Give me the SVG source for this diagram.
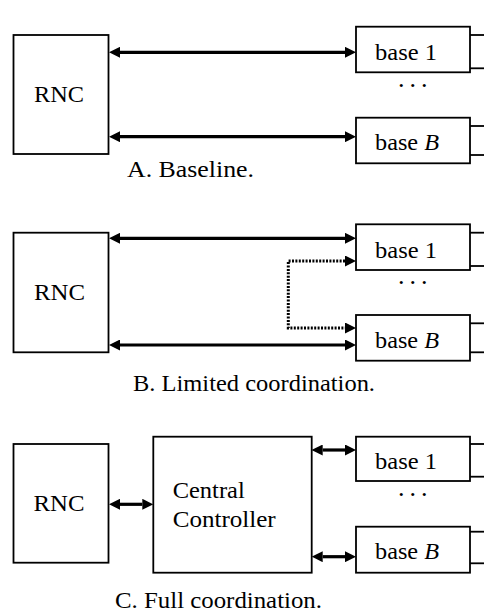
<svg xmlns="http://www.w3.org/2000/svg" width="484" height="613" viewBox="0 0 484 613">
<style>
.box{fill:#fff;stroke:#000;stroke-width:1.8}
.t{font-family:"Liberation Serif","Times New Roman",serif;font-size:23.5px;fill:#000}
.c{fill:none;stroke:#000;stroke-width:3.2}
.d{fill:none;stroke:#000;stroke-width:3;stroke-dasharray:2 1.4}
.dots{font-family:"Liberation Serif","Times New Roman",serif;font-size:26px;fill:#000}
</style>
<defs>
<marker id="ah" viewBox="0 0 11 11" refX="0" refY="5.5" markerWidth="11" markerHeight="11" markerUnits="userSpaceOnUse" orient="auto-start-reverse"><path d="M0,0 L11,5.5 L0,11 z" fill="#000"/></marker>
</defs>
<rect width="484" height="613" fill="#fff"/>
<!-- Section A -->
<g id="rncA"><rect class="box" x="13.5" y="35" width="95" height="119"/><text class="t" x="34" y="101.5" textLength="50" lengthAdjust="spacingAndGlyphs">RNC</text></g>
<g id="base1A"><rect class="box" x="440" y="35" width="60" height="33.3"/><rect class="box" x="356" y="26.7" width="114" height="45.6"/><text class="t" x="375" y="60" textLength="62" lengthAdjust="spacingAndGlyphs">base 1</text></g>
<g id="baseBA"><rect class="box" x="440" y="126" width="60" height="29"/><rect class="box" x="356" y="117.7" width="114" height="45.6"/><text class="t" x="375" y="150" textLength="64" lengthAdjust="spacingAndGlyphs">base <tspan font-style="italic">B</tspan></text></g>
<text class="dots" x="398" y="87" letter-spacing="5">...</text>
<text class="t" x="127" y="177" textLength="127" lengthAdjust="spacingAndGlyphs">A. Baseline.</text>
<!-- Section B -->
<g id="rncB"><rect class="box" x="13.5" y="232.7" width="95" height="119.6"/><text class="t" x="34" y="300" textLength="51" lengthAdjust="spacingAndGlyphs">RNC</text></g>
<g id="base1B"><rect class="box" x="440" y="232.7" width="60" height="33.3"/><rect class="box" x="356" y="224.3" width="114" height="45.7"/><text class="t" x="375" y="258" textLength="62" lengthAdjust="spacingAndGlyphs">base 1</text></g>
<g id="baseBB"><rect class="box" x="440" y="323.3" width="60" height="29"/><rect class="box" x="356" y="315" width="114" height="45.7"/><text class="t" x="375" y="347.5" textLength="64" lengthAdjust="spacingAndGlyphs">base <tspan font-style="italic">B</tspan></text></g>
<text class="dots" x="398" y="284" letter-spacing="5">...</text>
<text class="t" x="133" y="391" textLength="242" lengthAdjust="spacingAndGlyphs">B. Limited coordination.</text>
<!-- Section C -->
<g id="rncC"><rect class="box" x="13.5" y="444" width="95" height="118.7"/><text class="t" x="33.5" y="510.5" textLength="51" lengthAdjust="spacingAndGlyphs">RNC</text></g>
<g id="cc"><rect class="box" x="153.3" y="436.7" width="158.4" height="136"/><text class="t" x="172.7" y="498.3" textLength="72" lengthAdjust="spacingAndGlyphs">Central</text><text class="t" x="172.7" y="527.3" textLength="103" lengthAdjust="spacingAndGlyphs">Controller</text></g>
<g id="base1C"><rect class="box" x="440" y="444" width="60" height="32.7"/><rect class="box" x="356" y="436.7" width="114" height="44.3"/><text class="t" x="375" y="469" textLength="62" lengthAdjust="spacingAndGlyphs">base 1</text></g>
<g id="baseBC"><rect class="box" x="440" y="531.7" width="60" height="31.6"/><rect class="box" x="356" y="526.7" width="114" height="46"/><text class="t" x="375" y="558.5" textLength="64" lengthAdjust="spacingAndGlyphs">base <tspan font-style="italic">B</tspan></text></g>
<text class="dots" x="398" y="496" letter-spacing="5">...</text>
<text class="t" x="115" y="608" textLength="207" lengthAdjust="spacingAndGlyphs">C. Full coordination.</text>
<!-- Connectors -->
<g id="connectors">
<path class="c" d="M120,52.3 H345" marker-start="url(#ah)" marker-end="url(#ah)"/>
<path class="c" d="M120,136.7 H345" marker-start="url(#ah)" marker-end="url(#ah)"/>
<path class="c" d="M120,238.3 H345" marker-start="url(#ah)" marker-end="url(#ah)"/>
<path class="c" d="M120,345 H345" marker-start="url(#ah)" marker-end="url(#ah)"/>
<path class="d" d="M345,261 H288.3 V328 H345" marker-start="url(#ah)" marker-end="url(#ah)"/>
<path class="c" d="M120,504.3 H142.3" marker-start="url(#ah)" marker-end="url(#ah)"/>
<path class="c" d="M322.7,450 H345" marker-start="url(#ah)" marker-end="url(#ah)"/>
<path class="c" d="M322.7,556.7 H345" marker-start="url(#ah)" marker-end="url(#ah)"/>
</g>
</svg>
